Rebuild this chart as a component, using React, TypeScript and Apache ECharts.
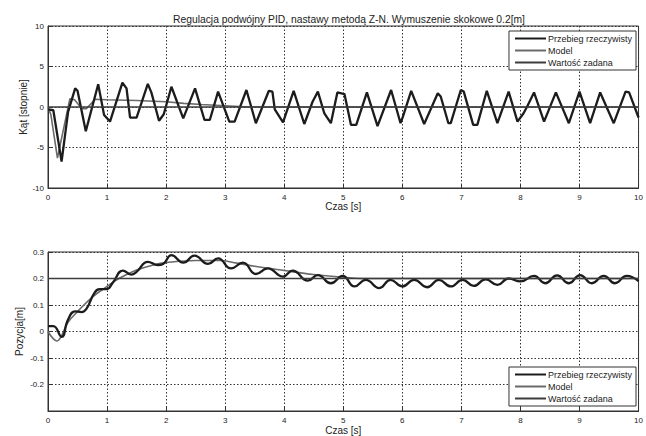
import React, { useEffect, useRef } from "react";
import * as echarts from "echarts";

const titleText = "Regulacja podwójny PID, nastawy metodą Z-N. Wymuszenie skokowe 0.2[m]";
const legendNames = ["Przebieg rzeczywisty", "Model", "Wartość zadana"];
const xAxisName = "Czas [s]";
const yAxisNameAngle = "Kąt [stopnie]";
const yAxisNamePos = "Pozycja[m]";

// Top plot: angle [deg]
const angleRealT = [0, 0.09, 0.23, 0.34, 0.46, 0.5, 0.64, 0.85, 0.95, 1.05, 1.26, 1.33, 1.39, 1.5, 1.69, 1.75, 1.88, 1.96, 2.09, 2.29, 2.49, 2.65, 2.74, 2.88, 3.07, 3.16, 3.36, 3.52, 3.74, 3.8, 3.84, 3.98, 4.16, 4.34, 4.48, 4.57, 4.68, 4.79, 4.9, 5.02, 5.13, 5.22, 5.4, 5.58, 5.81, 5.97, 6.01, 6.15, 6.37, 6.6, 6.65, 6.78, 6.82, 6.99, 7.04, 7.2, 7.27, 7.43, 7.61, 7.8, 7.95, 8.05, 8.11, 8.23, 8.4, 8.6, 8.82, 9.0, 9.18, 9.35, 9.58, 9.78, 9.84, 10.0];
const angleRealV = [-0.3, -0.4, -6.75, -0.6, 2.3, 2.0, -3.0, 2.8, -1.0, -1.8, 3.0, 2.3, -1.3, -1.3, 2.85, 1.8, -1.7, -0.9, 2.5, -1.4, 2.3, -1.6, -1.6, 1.9, -1.8, -1.8, 2.1, -2.0, 2.0, 1.9, -0.3, -1.9, 2.0, -2.1, 0.65, 1.9, -0.8, -2.0, 1.8, 1.6, -2.2, -2.2, 1.8, -2.35, 2.1, -2.0, -1.2, 2.0, -2.1, 1.7, 1.3, -2.0, -2.0, 2.1, 1.9, -2.2, -2.2, 2.0, -2.0, 1.9, -1.8, -0.8, 0.0, 1.8, -1.8, 1.8, -2.0, 1.9, -2.0, 1.8, -2.0, 1.9, 1.8, -1.3];
const angleModelT = [0, 0.05, 0.16, 0.37, 0.45, 0.57, 0.65, 0.8, 1.0, 1.5, 2.0, 2.3, 2.6, 3.0, 3.4, 10];
const angleModelV = [0, -1.0, -6.3, 1.0, 0.9, -0.2, -0.2, 0.95, 0.9, 0.8, 0.65, 0.45, 0.3, 0.15, 0.0, 0];
const angleSetT = [0, 10];
const angleSetV = [0, 0];

// Bottom plot: position [m]
const posRealT = [0, 0.09, 0.23, 0.34, 0.46, 0.57, 0.65, 0.79, 0.88, 0.99, 1.1, 1.27, 1.41, 1.5, 1.69, 1.86, 1.95, 2.09, 2.29, 2.48, 2.71, 2.88, 3.1, 3.3, 3.52, 3.72, 3.98, 4.14, 4.4, 4.57, 4.79, 4.99, 5.19, 5.38, 5.61, 5.8, 6.0, 6.2, 6.42, 6.62, 6.82, 7.02, 7.21, 7.41, 7.61, 7.8, 8.0, 8.23, 8.42, 8.62, 8.82, 9.01, 9.21, 9.41, 9.6, 9.8, 10.0];
const posRealV = [0.02, 0.02, -0.02, 0.045, 0.076, 0.073, 0.085, 0.147, 0.16, 0.16, 0.185, 0.23, 0.215, 0.225, 0.263, 0.251, 0.255, 0.288, 0.26, 0.286, 0.255, 0.276, 0.238, 0.26, 0.217, 0.238, 0.207, 0.23, 0.192, 0.213, 0.182, 0.21, 0.17, 0.195, 0.164, 0.195, 0.17, 0.195, 0.167, 0.195, 0.17, 0.195, 0.172, 0.197, 0.176, 0.2, 0.189, 0.21, 0.182, 0.212, 0.182, 0.213, 0.182, 0.21, 0.182, 0.21, 0.19];
const posModelT = [0, 0.08, 0.15, 0.22, 0.34, 0.5, 0.75, 1.0, 1.2, 1.5, 1.8, 2.0, 2.5, 2.9, 3.2, 3.5, 4.0, 4.5, 5.0, 5.3, 10];
const posModelV = [0, -0.025, -0.036, -0.02, 0.035, 0.075, 0.13, 0.17, 0.2, 0.232, 0.252, 0.26, 0.268, 0.268, 0.258, 0.246, 0.23, 0.215, 0.205, 0.2, 0.2];
const posSetT = [0, 10];
const posSetV = [0.2, 0.2];

const zip = (t: number[], v: number[]) => t.map((x, i) => [x, v[i]]);

const FONT = '"Liberation Sans", Arial, sans-serif';
const TXT = "#222";
const REAL = { color: "#1c1c1c", width: 2.3 };
const MODEL = { color: "#6a6a6a", width: 1.6 };
const SETP = { color: "#3c3c3c", width: 1.5 };

function xAxis(gridIndex: number, gap: number) {
  return {
    type: "value",
    gridIndex,
    min: 0,
    max: 10,
    interval: 1,
    name: xAxisName,
    nameLocation: "middle",
    nameGap: gap,
    nameTextStyle: { fontFamily: FONT, fontSize: 10, color: TXT, verticalAlign: "top" },
    axisLine: { show: true, onZero: false, lineStyle: { color: "#333", width: 1 } },
    axisTick: { show: true, inside: true, length: 4, lineStyle: { color: "#333" } },
    axisLabel: { fontFamily: FONT, fontSize: 8, color: TXT, margin: 5 },
    splitLine: { show: true, lineStyle: { color: "#333", width: 1, type: [1.5, 2] } },
  };
}

function yAxis(gridIndex: number, name: string, min: number, max: number, interval: number, gap: number, fmt?: (v: number) => string) {
  return {
    type: "value",
    gridIndex,
    min,
    max,
    interval,
    name,
    nameLocation: "middle",
    nameGap: gap,
    nameMoveOverlap: false,
    nameTextStyle: { fontFamily: FONT, fontSize: 10, color: TXT },
    axisLine: { show: true, onZero: false, lineStyle: { color: "#333", width: 1 } },
    axisTick: { show: true, inside: true, length: 4, lineStyle: { color: "#333" } },
    axisLabel: { fontFamily: FONT, fontSize: 8, color: TXT, margin: 4, formatter: fmt },
    splitLine: { show: true, lineStyle: { color: "#333", width: 1, type: [1.5, 2] } },
  };
}

function legend(top: number) {
  return {
    data: legendNames,
    orient: "vertical",
    right: 10,
    top,
    itemWidth: 31,
    itemHeight: 8,
    itemGap: 3,
    padding: [3, 4, 3, 5],
    backgroundColor: "#fff",
    borderColor: "#333",
    borderWidth: 1,
    borderRadius: 0,
    selectedMode: false,
    textStyle: { fontFamily: FONT, fontSize: 9, color: TXT, padding: [0, 0, 0, -3], lineHeight: 9 },
  };
}

function line(name: string, x: number, data: number[][], style: { color: string; width: number }, z: number, smooth: number | boolean = false) {
  return {
    type: "line",
    name,
    xAxisIndex: x,
    yAxisIndex: x,
    data,
    showSymbol: false,
    symbol: "circle",
    smooth,
    z,
    color: style.color,
    itemStyle: { opacity: 0 },
    lineStyle: { color: style.color, width: style.width },
  };
}

export default function App() {
  const ref = useRef<HTMLDivElement>(null);
  useEffect(() => {
    document.body.style.margin = "0";
    const chart = echarts.init(ref.current!, null, { renderer: "svg" });
    chart.setOption({
      animation: false,
      backgroundColor: "#fff",
      title: {
        text: titleText,
        left: 344,
        top: 9,
        textAlign: "center",
        textStyle: { fontFamily: FONT, fontSize: 10.3, fontWeight: "normal", color: TXT },
      },
      grid: [
        { left: 48, right: 6, top: 26, height: 162, show: true, borderColor: "#333", borderWidth: 1, backgroundColor: "transparent" },
        { left: 48, right: 6, top: 252, height: 161, show: true, borderColor: "#333", borderWidth: 1, backgroundColor: "transparent" },
      ],
      legend: [legend(31), legend(367)],
      xAxis: [xAxis(0, 13), xAxis(1, 14)],
      yAxis: [
        yAxis(0, yAxisNameAngle, -10, 10, 5, 20),
        yAxis(1, yAxisNamePos, -0.3, 0.3, 0.1, 24, (v: number) => (v < -0.29 ? "" : String(Math.round(v * 10) / 10))),
      ],
      series: [
        line(legendNames[0], 0, zip(angleRealT, angleRealV), REAL, 4),
        line(legendNames[1], 0, zip(angleModelT, angleModelV), MODEL, 3),
        line(legendNames[2], 0, zip(angleSetT, angleSetV), SETP, 5),
        line(legendNames[0], 1, zip(posRealT, posRealV), REAL, 4, 0.5),
        line(legendNames[1], 1, zip(posModelT, posModelV), MODEL, 3, 0.4),
        line(legendNames[2], 1, zip(posSetT, posSetV), SETP, 5),
      ],
    });
    return () => chart.dispose();
  }, []);
  return <div ref={ref} style={{ position: "fixed", left: 0, top: 0, width: 646, height: 436 }} />;
}
